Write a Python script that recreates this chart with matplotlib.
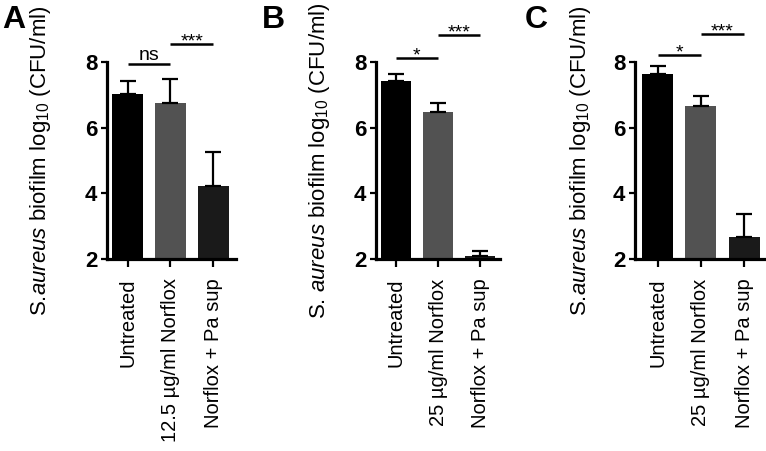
import matplotlib
matplotlib.use("Agg")
import matplotlib.pyplot as plt

plt.rcParams["font.family"] = ["Liberation Sans", "DejaVu Sans"]
plt.rcParams["mathtext.fontset"] = "custom"
plt.rcParams["mathtext.rm"] = "Liberation Sans"
plt.rcParams["mathtext.it"] = "Liberation Sans:italic"

# data
labels_a = ["Untreated", "12.5 µg/ml Norflox", "Norflox + Pa sup"]
labels_bc = ["Untreated", "25 µg/ml Norflox", "Norflox + Pa sup"]

vals_a = [7.02, 6.76, 4.23]
err_a = [0.41, 0.72, 1.02]
vals_b = [7.43, 6.47, 2.10]
err_b = [0.20, 0.28, 0.13]
vals_c = [7.62, 6.65, 2.66]
err_c = [0.26, 0.31, 0.71]

# significance: (left group, right group, height, text)
sig_a = [(0, 1, 7.93, "ns"), (1, 2, 8.56, "***")]
sig_b = [(0, 1, 8.13, "*"), (1, 2, 8.82, "***")]
sig_c = [(0, 1, 8.22, "*"), (1, 2, 8.86, "***")]

ylab_a = r"S.$\it{aureus}$ biofilm log$_{10}$ (CFU/ml)"
ylab_b = r"S. $\it{aureus}$ biofilm log$_{10}$ (CFU/ml)"

bar_colors = ["#000000", "#525252", "#1a1a1a"]

W, H = 766, 451
fig = plt.figure(figsize=(W / 100, H / 100), dpi=100)

# panel layout in pixels: left, right, xlim, ylabel x (axes fraction), letter x
panels = [
    ("A", 107, 236, (-0.48, 2.53), -0.42, 2, labels_a, vals_a, err_a, sig_a, ylab_a),
    ("B", 376, 500, (-0.47, 2.47), -0.355, 262, labels_bc, vals_b, err_b, sig_b, ylab_b),
    ("C", 635, 766, (-0.53, 2.51), -0.32, 525, labels_bc, vals_c, err_c, sig_c, ylab_a),
]
top_px, bot_px = 62, 259

for letter, l, r, xl, ylx, lx, labels, vals, errs, sigs, ylab in panels:
    ax = fig.add_axes([l / W, 1 - bot_px / H, (r - l) / W, (bot_px - top_px) / H])
    x = list(range(len(vals)))
    ax.bar(x, [v - 2 for v in vals], bottom=2, width=0.72, color=bar_colors, zorder=2)
    ax.errorbar(x, vals, yerr=[[0] * len(errs), errs], fmt="none", ecolor="black",
                elinewidth=1.6, capsize=5.5, capthick=1.6, zorder=3)
    ax.set_xlim(*xl)
    ax.set_ylim(2, 8)
    ax.set_yticks([2, 4, 6, 8])
    ax.set_xticks(x)
    ax.set_xticklabels(labels, rotation=90, fontsize=14.5)
    for t in ax.get_yticklabels():
        t.set_fontsize(16)
        t.set_fontweight("bold")
    ax.tick_params(axis="y", length=4, width=1.6, pad=3)
    ax.tick_params(axis="x", length=6, width=1.6, pad=8)
    for s in ["top", "right"]:
        ax.spines[s].set_visible(False)
    for s in ["left", "bottom"]:
        ax.spines[s].set_linewidth(2.3)
    ax.set_ylabel(ylab, fontsize=16)
    ax.yaxis.set_label_coords(ylx, 0.5)

    for i, j, h, txt in sigs:
        ax.plot([i, j], [h, h], color="black", lw=1.8, clip_on=False, solid_capstyle="butt")
        if txt == "ns":
            ax.annotate(txt, ((i + j) / 2, h), xytext=(0, 3), textcoords="offset points",
                        ha="center", va="baseline", fontsize=14, annotation_clip=False)
        else:
            ax.annotate(txt, ((i + j) / 2, h), xytext=(0, -2), textcoords="offset points",
                        ha="center", va="baseline", fontsize=14, annotation_clip=False)

    fig.text(lx / W, 1 - 28 / H, letter, fontsize=23, fontweight="bold",
             ha="left", va="baseline")

fig.savefig("out.png", dpi=100)
